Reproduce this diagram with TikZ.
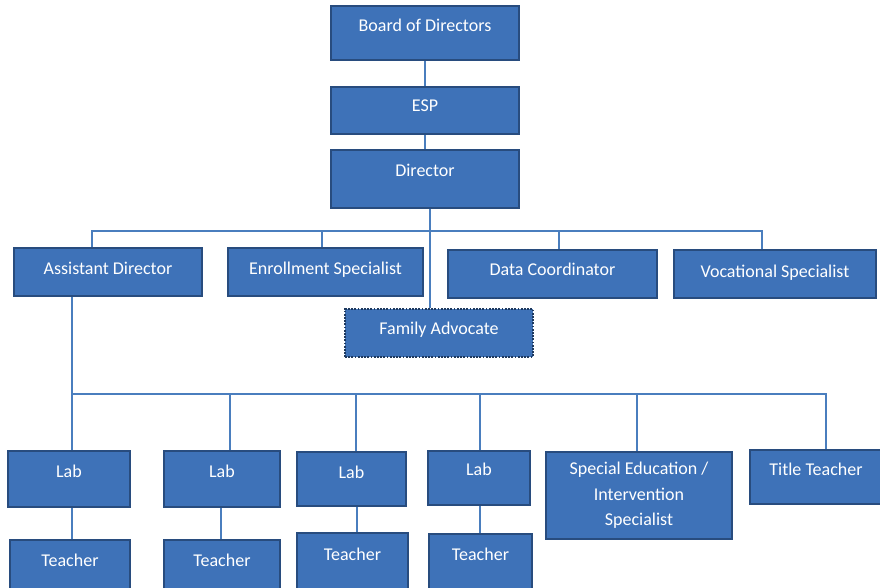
\documentclass[tikz,border=0pt]{standalone}
\usepackage{fontspec}
\setmainfont{Carlito}
\definecolor{boxfill}{RGB}{62,114,184}
\definecolor{boxedge}{RGB}{40,76,126}
\definecolor{linkc}{RGB}{74,126,190}
\pgfdeclarelayer{bg}
\pgfsetlayers{bg,main}
\tikzset{
  box/.style={draw=boxedge, fill=boxfill, line width=2pt, inner sep=0pt},
  dotbox/.style={draw=boxedge!75!black, line width=2.6pt, dash pattern=on 1.8pt off 1.4pt},
  txt/.style={text=white, anchor=base, inner sep=0pt, font=\fontsize{18}{26}\selectfont},
  link/.style={draw=linkc, line width=2pt}
}
\newcommand{\orgbox}[8][]{%
  \node[box,#1,minimum width={(#5-#3)*1pt},minimum height={(#6-#4)*1pt}] (#2) at ({(#3+#5)/2},{(#4+#6)/2}) {};
  \node[txt] (#2-t) at ({(#3+#5)/2},#7) {#8};
}
\begin{document}
\begin{tikzpicture}[x=1pt,y=-1pt]
\useasboundingbox (0,0) rectangle (880,588);
\begin{pgfonlayer}{bg}
\fill[white] (0,0) rectangle (880,588);
\end{pgfonlayer}

% top chain
\orgbox{bod}{331}{6}{519}{60}{32}{Board of Directors}
\orgbox{esp}{331}{87}{519}{134}{112}{ESP}
\orgbox{dir}{331}{150}{519}{208}{176}{Director}

% second row
\orgbox{ad}{14}{248}{202}{296}{274}{Assistant Director}
\orgbox{es}{228}{248}{423}{296}{274}{Enrollment Specialist}
\orgbox{dc}{448}{250}{657}{298}{275}{Data Coordinator}
\orgbox{vs}{674}{250}{876}{298}{277}{Vocational Specialist}
\orgbox[dotbox]{fa}{345}{309}{533}{357}{334}{Family Advocate}

% bottom rows
\orgbox{lab1}{8}{451}{130}{507}{477}{Lab}
\orgbox{lab2}{164}{451}{280}{507}{477}{Lab}
\orgbox{lab3}{297}{452}{406}{506}{478}{Lab}
\orgbox{lab4}{428}{451}{530}{505}{475}{Lab}
\node[box,minimum width=186pt,minimum height=87pt,align=center,text=white,font=\fontsize{18}{25.5}\selectfont] (se) at (639,495.5) {Special Education /\\Intervention\\Specialist};
\orgbox{tt}{750}{450}{882}{504}{475}{Title Teacher}

\orgbox{t1}{10}{540}{130}{592}{566}{Teacher}
\orgbox{t2}{164}{540}{280}{592}{566}{Teacher}
\orgbox{t3}{297}{533}{408}{592}{560}{Teacher}
\orgbox{t4}{429}{534}{532}{592}{560}{Teacher}

% bus coordinates
\coordinate (busA-l) at (92,231);
\coordinate (busA-r) at (762,231);
\coordinate (dDir) at (430,231);
\coordinate (dES) at (322,231);
\coordinate (dDC) at (559,231);
\coordinate (busB-l) at (72,394);
\coordinate (busB-r) at (826,394);
\coordinate (dL2) at (230,394);
\coordinate (dL3) at (356,394);
\coordinate (dL4) at (480,394);
\coordinate (dSE) at (637,394);
\coordinate (v2) at (221,520);
\coordinate (v3) at (357,520);

% links
\draw[link] (bod) -- (esp);
\draw[link] (esp) -- (dir);
\draw[link] (dir.south -| dDir) -- (fa.north -| dDir);
\draw[link] (busA-l |- ad.north) -- (busA-l) -- (busA-r) -- (busA-r |- vs.north);
\draw[link] (dES) -- (dES |- es.north);
\draw[link] (dDC) -- (dDC |- dc.north);
\draw[link] (busB-l |- ad.south) -- (busB-l) -- (busB-r) -- (busB-r |- tt.north);
\draw[link] (busB-l) -- (busB-l |- lab1.north);
\draw[link] (dL2) -- (dL2 |- lab2.north);
\draw[link] (dL3) -- (dL3 |- lab3.north);
\draw[link] (dL4) -- (dL4 |- lab4.north);
\draw[link] (dSE) -- (dSE |- se.north);
\draw[link] (busB-l |- lab1.south) -- (busB-l |- t1.north);
\draw[link] (v2 |- lab2.south) -- (v2 |- t2.north);
\draw[link] (v3 |- lab3.south) -- (v3 |- t3.north);
\draw[link] (dL4 |- lab4.south) -- (dL4 |- t4.north);
\end{tikzpicture}
\end{document}
